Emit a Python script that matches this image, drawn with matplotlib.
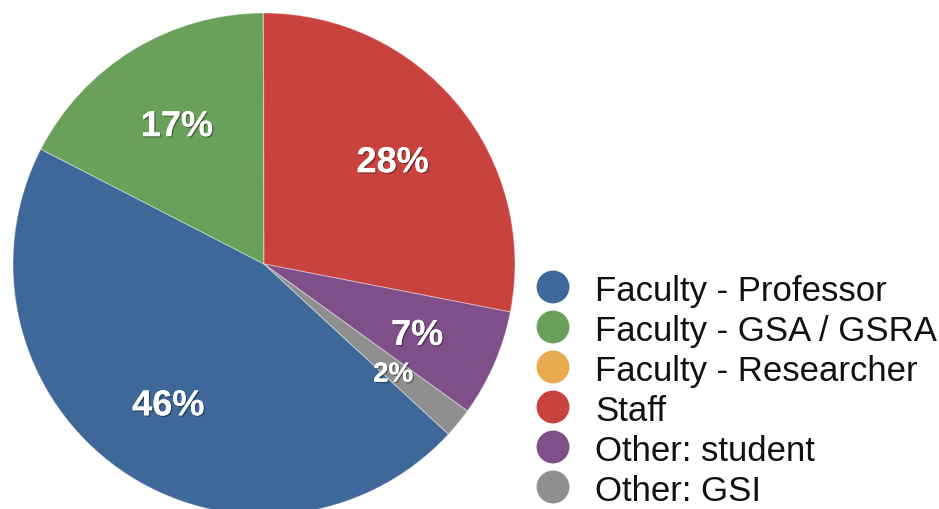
import matplotlib
matplotlib.use("Agg")
import matplotlib.pyplot as plt
import matplotlib.patheffects as pe

categories = ["Faculty - Professor", "Faculty - GSA / GSRA", "Faculty - Researcher",
              "Staff", "Other: student", "Other: GSI"]
values = [45.7, 17.4, 0.0, 28.1, 6.9, 1.9]
colors = ["#3e6899", "#6aa15a", "#e8ac4e", "#c9433e", "#7f4f8a", "#8f8f8f"]

W, H = 939, 510
fig = plt.figure(figsize=(W / 100, H / 100), dpi=100)
plt.rcParams['font.family'] = ['Liberation Sans', 'DejaVu Sans']

cx, cy, R = 264, 510 - 265, 251
ax = fig.add_axes([(cx - R) / W, (cy - R) / H, 2 * R / W, 2 * R / H])

def fmt(p):
    return f"{p:.0f}%" if p >= 1 else ""

wedges, texts, autotexts = ax.pie(
    values, colors=colors, startangle=-42.7, counterclock=False,
    autopct=fmt, pctdistance=0.665, radius=1.0,
    wedgeprops=dict(edgecolor=(1, 1, 1, 0.35), linewidth=0.8),
)
ax.set_xlim(-1, 1)
ax.set_ylim(-1, 1)
ax.set_aspect('equal')
ax.axis('off')

shadow = [pe.withSimplePatchShadow(offset=(1, -1), shadow_rgbFace='black', alpha=0.35), pe.Normal()]
for t, v in zip(autotexts, values):
    t.set_color('white')
    t.set_fontweight('bold')
    t.set_fontsize(26 if v >= 5 else 20)
    t.set_path_effects(shadow)
    x, y = t.get_position()
    t.set_position((x, y - 0.02))

# legend drawn in a pixel-coordinate overlay axes
lax = fig.add_axes([0, 0, 1, 1])
lax.set_xlim(0, W)
lax.set_ylim(H, 0)
lax.axis('off')
x_marker, x_text = 553, 595
y0, dy = 288, 40
for i, (lab, col) in enumerate(zip(categories, colors)):
    y = y0 + i * dy
    lax.scatter([x_marker], [y], s=560, color=col, edgecolors='none')
    lax.text(x_text, y, lab, fontsize=25, color='#111111',
             va='center_baseline', ha='left')

fig.savefig("out.png", dpi=100)
